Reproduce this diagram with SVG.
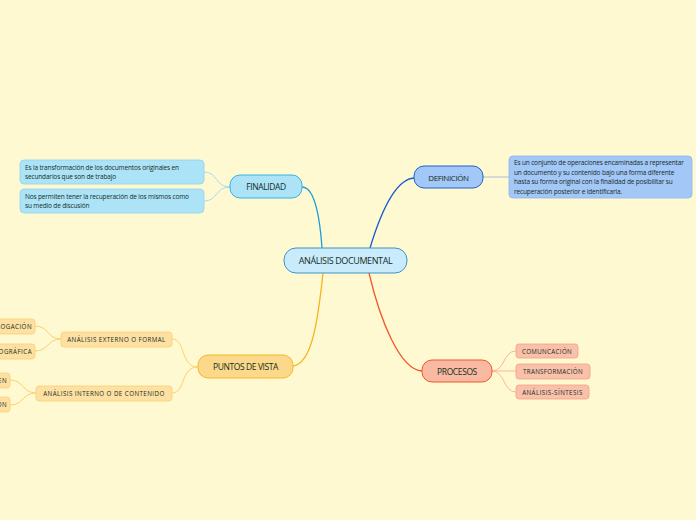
<svg xmlns="http://www.w3.org/2000/svg" width="696" height="520" viewBox="0 0 696 520">
<style>
text{font-family:"Open Sans","Noto Sans","Liberation Sans",sans-serif;fill:#142e25}
.main{font-size:9px;letter-spacing:-0.4px}
.lvl1{font-size:8.5px;letter-spacing:-0.4px}
.note{font-size:6.5px;letter-spacing:-0.15px}
.cap{font-size:6.2px;letter-spacing:0.45px}
.c{fill:none;stroke-width:1.3}
.s{fill:none;stroke-width:1}
</style>
<rect width="696" height="520" fill="#fef9d1"/>
<g id="connectors">
<path class="c" stroke="#1a9fdb" d="M302,187 C315,187 320,220 322,248"/>
<path class="c" stroke="#1b5fcf" d="M370,248 C380,215 395,178 415,178"/>
<path class="c" stroke="#f7b21c" d="M323,273 C318,320 312,364 293,366"/>
<path class="c" stroke="#f0582a" d="M369,273 C380,320 400,370 422,371"/>
<path class="s" stroke="#a6dcf2" d="M230,187 C215,187 218,172 204,172 M230,187 C215,187 218,201 204,201"/>
<path class="s" stroke="#a6bfd6" d="M483,177 L509,177"/>
<path class="s" stroke="#fcd070" d="M198,367 C180,367 186,339 172,339 M198,367 C180,367 186,393 172,393"/>
<path class="s" stroke="#fcd070" d="M61,339 C47,339 49,326 35,326 M61,339 C47,339 49,351 35,351"/>
<path class="s" stroke="#fcd070" d="M36,393 C22,393 24,380 10,380 M36,393 C22,393 24,405 10,405"/>
<path class="s" stroke="#fbb696" d="M492,371 C505,371 503,351 516,351 M492,371 L516,371 M492,371 C505,371 503,392 516,392"/>
</g>
<g id="central">
<rect x="284" y="248" width="123" height="25" rx="12" fill="#c9ebfb" stroke="#3d93c9" stroke-width="1"/>
<text class="main" x="345.5" y="264" text-anchor="middle">ANÁLISIS DOCUMENTAL</text>
</g>
<g id="finalidad">
<rect x="230" y="175" width="72" height="23" rx="10" fill="#ade3f7" stroke="#36b2e6" stroke-width="1"/>
<text class="lvl1" x="266" y="190" text-anchor="middle">FINALIDAD</text>
</g>
<g id="fin1">
<rect x="20" y="160" width="184" height="24" rx="4" fill="#ade3f7" stroke="#8fd3f0" stroke-width="0.8"/>
<text class="note" x="25" y="169.5">Es la transformación de los documentos originales en</text>
<text class="note" x="25" y="179">secundarios que son de trabajo</text>
</g>
<g id="fin2">
<rect x="20" y="189" width="184" height="24" rx="4" fill="#ade3f7" stroke="#8fd3f0" stroke-width="0.8"/>
<text class="note" x="25" y="198.5">Nos permiten tener la recuperación de los mismos como</text>
<text class="note" x="25" y="208">su medio de discusión</text>
</g>
<g id="definicion">
<rect x="414" y="166" width="69" height="22" rx="10" fill="#a3c7f7" stroke="#1b63cc" stroke-width="1"/>
<text class="lvl1" x="448.5" y="180.5" text-anchor="middle" style="font-size:8px">DEFINICIÓN</text>
</g>
<g id="def1">
<rect x="509" y="156" width="183" height="42" rx="4" fill="#a3c7f7" stroke="#8fb5ec" stroke-width="0.8"/>
<text class="note" x="514" y="165">Es un conjunto de operaciones encaminadas a representar</text>
<text class="note" x="514" y="174.5">un documento y su contenido bajo una forma diferente</text>
<text class="note" x="514" y="184">hasta su forma original con la finalidad de posibilitar su</text>
<text class="note" x="514" y="193.5">recuperación posterior e identificarla.</text>
</g>
<g id="puntos">
<rect x="198" y="355" width="95" height="23" rx="10" fill="#fcd88a" stroke="#f7b82a" stroke-width="1"/>
<text class="lvl1" x="245.5" y="370" text-anchor="middle">PUNTOS DE VISTA</text>
</g>
<g id="externo">
<rect x="61" y="332" width="111" height="15" rx="3" fill="#fde0a2" stroke="#fbcf72" stroke-width="0.8"/>
<text class="cap" x="116.5" y="342" text-anchor="middle">ANÁLISIS EXTERNO O FORMAL</text>
</g>
<g id="interno">
<rect x="36" y="386" width="136" height="15" rx="3" fill="#fde0a2" stroke="#fbcf72" stroke-width="0.8"/>
<text class="cap" x="104" y="396" text-anchor="middle">ANÁLISIS INTERNO O DE CONTENIDO</text>
</g>
<g id="catalogacion">
<rect x="-60" y="319" width="95" height="15" rx="3" fill="#fde0a2" stroke="#fbcf72" stroke-width="0.8"/>
<text class="cap" x="32" y="329" text-anchor="end">CATALOGACIÓN</text>
</g>
<g id="bibliografica">
<rect x="-110" y="344" width="145" height="15" rx="3" fill="#fde0a2" stroke="#fbcf72" stroke-width="0.8"/>
<text class="cap" x="32" y="354" text-anchor="end">DESCRIPCIÓN BIBLIOGRÁFICA</text>
</g>
<g id="resumen">
<rect x="-60" y="373" width="70" height="15" rx="3" fill="#fde0a2" stroke="#fbcf72" stroke-width="0.8"/>
<text class="cap" x="7" y="383" text-anchor="end">RESUMEN</text>
</g>
<g id="indizacion">
<rect x="-60" y="397" width="70" height="15" rx="3" fill="#fde0a2" stroke="#fbcf72" stroke-width="0.8"/>
<text class="cap" x="7" y="407" text-anchor="end">INDIZACIÓN</text>
</g>
<g id="procesos">
<rect x="422" y="360" width="70" height="22" rx="10" fill="#f9b9a2" stroke="#f0582a" stroke-width="1"/>
<text class="lvl1" x="457" y="374.5" text-anchor="middle">PROCESOS</text>
</g>
<g id="comunicacion">
<rect x="516" y="344" width="62" height="14" rx="3" fill="#f9c0aa" stroke="#f5a184" stroke-width="0.8"/>
<text class="cap" x="547" y="353.5" text-anchor="middle" style="letter-spacing:0.35px">COMUNCACIÓN</text>
</g>
<g id="transformacion">
<rect x="516" y="364" width="74" height="15" rx="3" fill="#f9c0aa" stroke="#f5a184" stroke-width="0.8"/>
<text class="cap" x="553" y="374" text-anchor="middle" style="letter-spacing:0.3px">TRANSFORMACIÓN</text>
</g>
<g id="sintesis">
<rect x="516" y="385" width="73" height="14" rx="3" fill="#f9c0aa" stroke="#f5a184" stroke-width="0.8"/>
<text class="cap" x="552.5" y="394.5" text-anchor="middle">ANÁLISIS-SÍNTESIS</text>
</g>
</svg>
